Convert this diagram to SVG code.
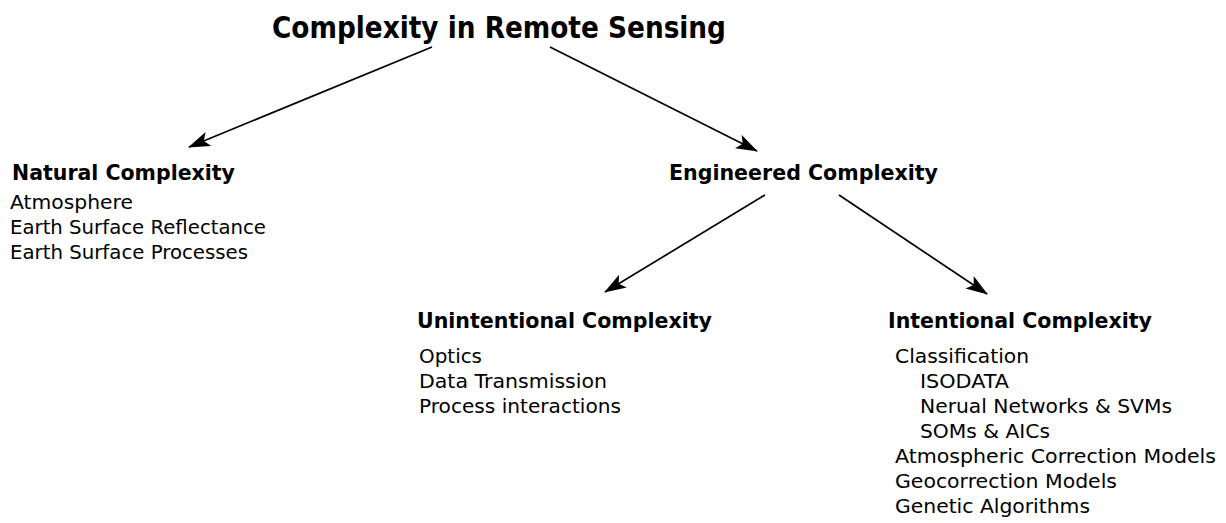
<svg xmlns="http://www.w3.org/2000/svg" width="1226" height="523" viewBox="0 0 1226 523">
<defs>
<style>
.t{font-family:"DejaVu Sans",Verdana,sans-serif;fill:#000}
.title{font-size:30px;font-weight:bold}
.h{font-size:22px;font-weight:bold}
.i{font-size:20px}
.c{stroke:#000;stroke-width:1.7;fill:none}
</style>
<marker id="ah" viewBox="0 0 22 15" markerWidth="22" markerHeight="15" refX="21" refY="7.5" orient="auto" markerUnits="userSpaceOnUse">
<path d="M0,0 L22,7.5 L0,15 L5,7.5 z" fill="#000"/>
</marker>
</defs>
<rect width="1226" height="523" fill="#fff"/>
<g id="connectors">
<line class="c" x1="432" y1="47" x2="189" y2="147" marker-end="url(#ah)"/>
<line class="c" x1="550" y1="47" x2="757" y2="151" marker-end="url(#ah)"/>
<line class="c" x1="765" y1="195" x2="605" y2="292" marker-end="url(#ah)"/>
<line class="c" x1="839" y1="195" x2="987" y2="294" marker-end="url(#ah)"/>
</g>
<g id="root"><text class="t title" x="272" y="38" textLength="454" lengthAdjust="spacingAndGlyphs">Complexity in Remote Sensing</text></g>
<g id="natural">
<text class="t h" x="12" y="180" textLength="223" lengthAdjust="spacingAndGlyphs">Natural Complexity</text>
<text class="t i" x="10" y="209" textLength="123" lengthAdjust="spacingAndGlyphs">Atmosphere</text>
<text class="t i" x="10" y="234" textLength="256" lengthAdjust="spacingAndGlyphs">Earth Surface Reflectance</text>
<text class="t i" x="10" y="259" textLength="238" lengthAdjust="spacingAndGlyphs">Earth Surface Processes</text>
</g>
<g id="engineered">
<text class="t h" x="669" y="180" textLength="269" lengthAdjust="spacingAndGlyphs">Engineered Complexity</text>
</g>
<g id="unintentional">
<text class="t h" x="417" y="328" textLength="295" lengthAdjust="spacingAndGlyphs">Unintentional Complexity</text>
<text class="t i" x="419" y="363" textLength="63" lengthAdjust="spacingAndGlyphs">Optics</text>
<text class="t i" x="419" y="388" textLength="188" lengthAdjust="spacingAndGlyphs">Data Transmission</text>
<text class="t i" x="419" y="413" textLength="202" lengthAdjust="spacingAndGlyphs">Process interactions</text>
</g>
<g id="intentional">
<text class="t h" x="888" y="328" textLength="264" lengthAdjust="spacingAndGlyphs">Intentional Complexity</text>
<text class="t i" x="895" y="363" textLength="134" lengthAdjust="spacingAndGlyphs">Classification</text>
<text class="t i" x="920" y="388" textLength="89" lengthAdjust="spacingAndGlyphs">ISODATA</text>
<text class="t i" x="920" y="413" textLength="252" lengthAdjust="spacingAndGlyphs">Nerual Networks &amp; SVMs</text>
<text class="t i" x="920" y="438" textLength="130" lengthAdjust="spacingAndGlyphs">SOMs &amp; AICs</text>
<text class="t i" x="895" y="463" textLength="321" lengthAdjust="spacingAndGlyphs">Atmospheric Correction Models</text>
<text class="t i" x="895" y="488" textLength="222" lengthAdjust="spacingAndGlyphs">Geocorrection Models</text>
<text class="t i" x="895" y="513" textLength="195" lengthAdjust="spacingAndGlyphs">Genetic Algorithms</text>
</g>
</svg>
